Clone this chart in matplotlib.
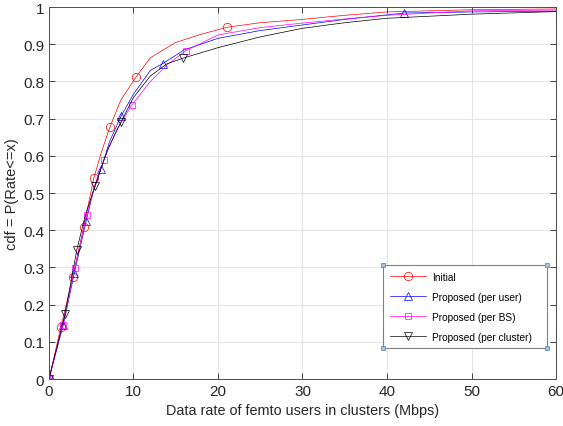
import matplotlib
matplotlib.use('Agg')
import matplotlib.pyplot as plt

plt.rcParams['font.family'] = ['Liberation Sans', 'DejaVu Sans']

# Initial
x_init = [0, 1.4, 2.8, 4.1, 5.3, 6.2, 7.2, 8.5, 10.3, 12, 15, 18, 21.1, 25, 30, 35, 40, 45, 50, 55, 60]
y_init = [0, 0.139, 0.273, 0.408, 0.54, 0.61, 0.677, 0.75, 0.812, 0.864, 0.905, 0.927, 0.946, 0.958,
          0.967, 0.978, 0.987, 0.99, 0.993, 0.994, 0.995]
mk_init = [0, 1, 2, 3, 4, 6, 8, 12]

# Proposed (per user)
x_user = [0, 1.7, 3.0, 4.4, 5.2, 6.15, 7.2, 8.5, 10, 12, 13.45, 16, 20, 25, 30, 35, 42, 50, 60]
y_user = [0, 0.146, 0.285, 0.425, 0.5, 0.565, 0.64, 0.706, 0.766, 0.83, 0.848, 0.885, 0.916, 0.937,
          0.952, 0.967, 0.984, 0.987, 0.989]
mk_user = [0, 1, 2, 3, 5, 7, 10, 16]

# Proposed (per BS)
x_bs = [0, 1.6, 3.04, 4.46, 5.4, 6.5, 8, 9.8, 12, 14, 16.2, 20, 25, 30, 35, 40, 50, 60]
y_bs = [0, 0.146, 0.298, 0.44, 0.52, 0.59, 0.67, 0.737, 0.8, 0.845, 0.883, 0.925, 0.945, 0.957,
        0.968, 0.978, 0.99, 0.992]
mk_bs = [0, 1, 2, 3, 5, 7, 10]

# Proposed (per cluster)
x_cl = [0, 1.9, 3.3, 4.3, 5.45, 7, 8.5, 10, 12, 14, 15.9, 20, 25, 30, 35, 40, 50, 60]
y_cl = [0, 0.175, 0.348, 0.44, 0.52, 0.62, 0.69, 0.757, 0.815, 0.848, 0.863, 0.891, 0.92, 0.943,
        0.958, 0.97, 0.981, 0.988]
mk_cl = [0, 1, 2, 4, 6, 10]

fig = plt.figure(figsize=(5.63, 4.27), dpi=100)
ax = fig.add_axes([0.087, 0.110, 0.9006, 0.871])

lw = 0.5
ax.plot(x_init, y_init, color='#ff0000', lw=lw, marker='o', markevery=mk_init, ms=6,
        mfc='none', mew=0.5, label='Initial')
ax.plot(x_user, y_user, color='#0000ff', lw=lw, marker='^', markevery=mk_user, ms=6,
        mfc='none', mew=0.5, label='Proposed (per user)')
ax.plot(x_bs, y_bs, color='#ff00ff', lw=lw, marker='s', markevery=mk_bs, ms=5,
        mfc='none', mew=0.5, label='Proposed (per BS)')
ax.plot(x_cl, y_cl, color='#000000', lw=lw, marker='v', markevery=mk_cl, ms=6,
        mfc='none', mew=0.5, label='Proposed (per cluster)')

ax.set_xlim(0, 60)
ax.set_ylim(0, 1)
ax.set_xticks(range(0, 61, 10))
ax.set_yticks([i / 10 for i in range(11)])
ax.set_yticklabels(['0', '0.1', '0.2', '0.3', '0.4', '0.5', '0.6', '0.7', '0.8', '0.9', '1'])
ax.grid(True, color='#e6e6e6', lw=0.8)
ax.set_axisbelow(True)
ax.tick_params(direction='in', labelsize=11, colors='#262626', length=4, width=0.6,
               top=True, right=True)
for s in ax.spines.values():
    s.set_color('#4d4d4d')
    s.set_linewidth(0.7)

ax.set_xlabel('Data rate of femto users in clusters (Mbps)', fontsize=10.4, color='#262626', labelpad=4)
ax.set_ylabel('cdf = P(Rate<=x)', fontsize=10.5, color='#262626')
ax.yaxis.set_label_coords(-0.059, 0.5)

leg = ax.legend(loc='lower left', bbox_to_anchor=(0.659, 0.083, 0.3235, 0.2), mode='expand',
                borderaxespad=0, fontsize=7.3, handlelength=3.6, handletextpad=0.6,
                borderpad=0.65, labelspacing=0.98,
                fancybox=False, framealpha=1, edgecolor='#808080')
leg.get_frame().set_linewidth(0.8)

# small selection handles at legend corners, as in the source figure
fig.canvas.draw()
bb = leg.get_window_extent().transformed(ax.transAxes.inverted())
ax.plot([bb.x0, bb.x1, bb.x0, bb.x1], [bb.y0, bb.y0, bb.y1, bb.y1], 's', ms=2.5,
        mfc='#a9c4e0', mec='#4a7fb5', mew=0.5, transform=ax.transAxes, clip_on=False, zorder=10)

fig.savefig('out.png', dpi=100)
